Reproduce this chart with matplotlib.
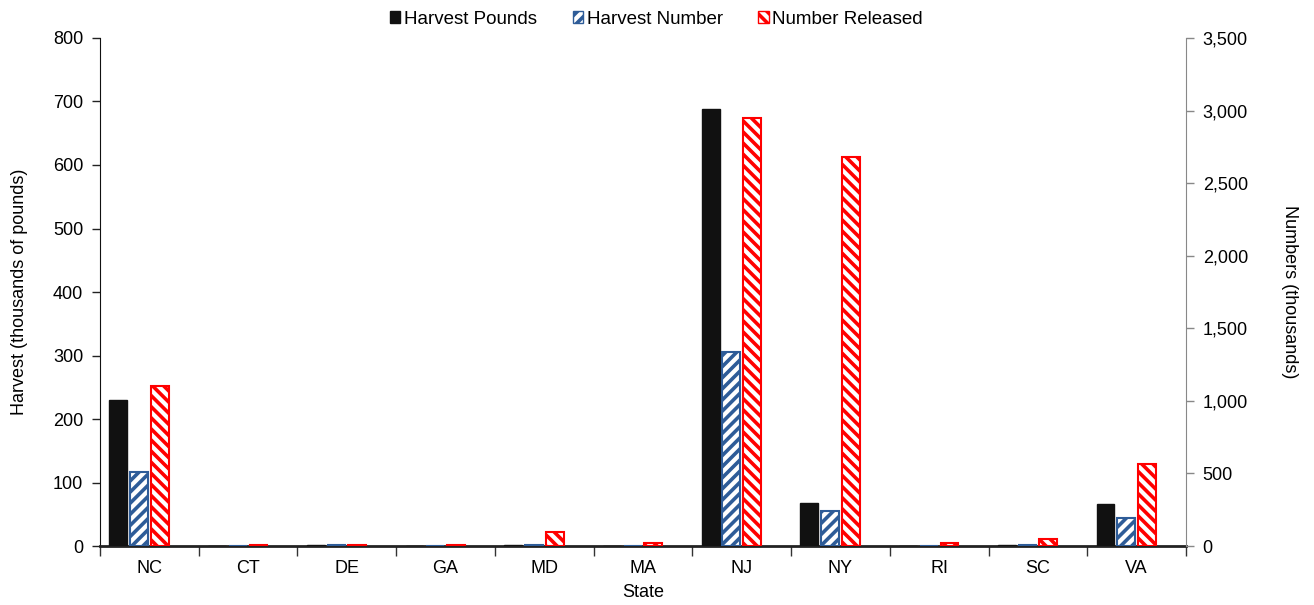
import numpy as np
import matplotlib
matplotlib.use("Agg")
import matplotlib.pyplot as plt
from matplotlib.patches import Patch

# 주 데이터
states = ["NC", "CT", "DE", "GA", "MD", "MA", "NJ", "NY", "RI", "SC", "VA"]
harvest_pounds = [230, 0, 1.5, 0, 1.5, 0, 688, 67, 0, 1.5, 66]          # thousands of pounds
harvest_number = [512, 0, 8, 0, 10, 0, 1335, 242, 0, 8, 191]            # thousands
number_released = [1105, 10, 10, 10, 98, 20, 2948, 2680, 22, 50, 563]   # thousands

plt.rcParams['font.family'] = ['Liberation Sans', 'DejaVu Sans']
plt.rcParams['font.size'] = 13
plt.rcParams['hatch.linewidth'] = 2.6

blue = "#2E5C98"
red = "#FF0000"
hatch_blue = "///"
hatch_red = "\\\\\\"

fig = plt.figure(figsize=(13.14, 6.05), dpi=100)
ax = fig.add_axes([0.0761, 0.0975, 0.8265, 0.8397])
ax2 = ax.twinx()

x = np.arange(len(states))
w = 0.18
step = 0.21

ax.bar(x - 1.5 * step, harvest_pounds, w, color="#111111", edgecolor="#111111", linewidth=1, zorder=3)
ax2.bar(x - 0.5 * step, harvest_number, w, facecolor="white", edgecolor=blue, hatch=hatch_blue, linewidth=1.5, zorder=3)
ax2.bar(x + 0.5 * step, number_released, w, facecolor="white", edgecolor=red, hatch=hatch_red, linewidth=1.5, zorder=3)

ax.set_xlim(-0.5, len(states) - 0.5)
ax.set_ylim(0, 800)
ax.set_yticks(np.arange(0, 801, 100))
ax2.set_ylim(0, 3500)
ax2.set_yticks(np.arange(0, 3501, 500))
ax2.set_yticklabels([f"{v:,}" for v in range(0, 3501, 500)])

# 카테고리 경계에 눈금 (Excel 스타일)
ax.set_xticks(np.arange(-0.5, len(states), 1.0))
ax.set_xticklabels([])
ax.set_xticks(x, minor=True)
ax.set_xticklabels(states, minor=True)
ax.tick_params(axis="x", which="major", length=7, width=1, color="#333333", direction="out")
ax.tick_params(axis="x", which="minor", length=0, pad=10)

ax.tick_params(axis="y", length=6, width=1, color="#222222", pad=6)
ax2.tick_params(axis="y", length=6, width=1, color="#888888", pad=6)

for s in ["top", "right"]:
    ax.spines[s].set_visible(False)
ax.spines["left"].set_color("#111111")
ax.spines["bottom"].set_color("#222222")
ax.spines["bottom"].set_linewidth(2)
ax2.spines["top"].set_visible(False)
ax2.spines["left"].set_visible(False)
ax2.spines["bottom"].set_visible(False)
ax2.spines["right"].set_color("#888888")

ax.set_xlabel("State", labelpad=5)
ax.set_ylabel("Harvest (thousands of pounds)", labelpad=18)
ax2.set_ylabel("Numbers (thousands)", rotation=270, labelpad=36)

handles = [
    Patch(facecolor="#111111", edgecolor="#111111", label="Harvest Pounds"),
    Patch(facecolor="white", edgecolor=blue, hatch=hatch_blue, label="Harvest Number"),
    Patch(facecolor="white", edgecolor=red, hatch=hatch_red, label="Number Released"),
]
fig.legend(handles=handles, loc="center", bbox_to_anchor=(0.4996, 0.968), ncol=3, frameon=False,
           handlelength=0.55, handleheight=0.6, handletextpad=0.2, columnspacing=1.9, fontsize=13.5)

fig.savefig("out.png", dpi=100)
